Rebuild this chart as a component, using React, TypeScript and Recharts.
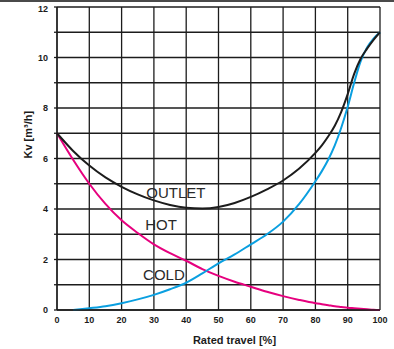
import React from "react"
import {
  LineChart,
  Line,
  XAxis,
  YAxis,
  CartesianGrid,
  ReferenceDot,
} from "recharts"

// Valve Kv curves vs rated travel.

const TRAVEL = [0, 5, 10, 15, 20, 25, 30, 35, 40, 45, 50, 55, 60, 65, 70, 75, 80, 82, 84, 86, 88, 90, 92, 94, 96, 98, 100]
const OUTLET = [7, 6.3, 5.72, 5.25, 4.88, 4.58, 4.34, 4.16, 4.05, 4.02, 4.08, 4.24, 4.48, 4.78, 5.13, 5.6, 6.22, 6.52, 6.88, 7.3, 7.85, 8.55, 9.35, 9.95, 10.35, 10.7, 11]
const HOT = [7, 5.95, 5.0, 4.2, 3.55, 3.05, 2.6, 2.25, 1.95, 1.62, 1.35, 1.12, 0.92, 0.72, 0.55, 0.4, 0.27, 0.23, 0.19, 0.15, 0.12, 0.09, 0.07, 0.05, 0.03, 0.01, 0]
const COLD = [null, 0, 0.07, 0.15, 0.27, 0.42, 0.6, 0.82, 1.08, 1.45, 1.85, 2.2, 2.6, 3.0, 3.5, 4.2, 5.1, 5.5, 5.96, 6.52, 7.22, 8.05, 9.0, 9.85, 10.4, 10.75, 11]

const X_TICKS = [0, 10, 20, 30, 40, 50, 60, 70, 80, 90, 100]
const Y_TICKS = [0, 1, 2, 3, 4, 5, 6, 7, 8, 9, 10, 11, 12]

const data = TRAVEL.map((t, i) => ({
  travel: t,
  outlet: OUTLET[i],
  hot: HOT[i],
  cold: COLD[i],
}))

const INK = "#1c1c1c"
const FONT = "Liberation Sans, Arial, sans-serif"
const tickFont = { fontSize: 9, fontWeight: 700, fill: INK, fontFamily: FONT }
const curveFont = { fontSize: 15, fill: "#2a2a2a", fontFamily: FONT }

// y labels only on even values
function YTick(props: any) {
  const { x, y, payload } = props
  if (payload.value % 2 !== 0) return null
  return (
    <text x={x - 4} y={y} dy={3} textAnchor="end" {...tickFont}>
      {payload.value}
    </text>
  )
}

export default function App() {
  return (
    <div style={{ position: "absolute", left: 0, top: 0, width: 394, height: 349, background: "#fff" }}>
      <div style={{ position: "absolute", left: 0, top: 0, width: 394, height: 2, background: "#4a4a4a" }} />
      <LineChart
        width={394}
        height={349}
        data={data}
        margin={{ top: 7, right: 14, bottom: 0, left: 0 }}
      >
        <CartesianGrid stroke={INK} strokeWidth={1.3} />
        <XAxis
          dataKey="travel"
          type="number"
          domain={[0, 100]}
          ticks={X_TICKS}
          height={39}
          stroke={INK}
          strokeWidth={1.3}
          tickLine={false}
          tickMargin={1}
          tick={tickFont}
          label={{
            value: "Rated travel [%]",
            position: "insideBottom",
            offset: 5,
            dx: 16,
            fontSize: 11,
            fontWeight: 700,
            fill: INK,
            fontFamily: FONT,
          }}
        />
        <YAxis
          type="number"
          domain={[0, 12]}
          ticks={Y_TICKS}
          width={57}
          stroke={INK}
          strokeWidth={1.3}
          tickSize={3}
          tick={<YTick />}
          label={{
            value: "Kv [m³/h]",
            angle: -90,
            position: "insideLeft",
            offset: 28,
            fontSize: 11,
            fontWeight: 700,
            fill: INK,
            fontFamily: FONT,
          }}
        />
        <Line type="monotone" dataKey="hot" stroke="#e6007e" strokeWidth={2} dot={false} isAnimationActive={false} />
        <Line type="monotone" dataKey="cold" stroke="#0a9fe0" strokeWidth={2} dot={false} isAnimationActive={false} />
        <Line type="monotone" dataKey="outlet" stroke={INK} strokeWidth={2} dot={false} isAnimationActive={false} />
        <ReferenceDot x={36.8} y={4.63} r={0} stroke="none" fill="none"
          label={{ value: "OUTLET", position: "center", ...curveFont }} />
        <ReferenceDot x={32.2} y={3.37} r={0} stroke="none" fill="none"
          label={{ value: "HOT", position: "center", ...curveFont }} />
        <ReferenceDot x={33.1} y={1.39} r={0} stroke="none" fill="none"
          label={{ value: "COLD", position: "center", ...curveFont }} />
      </LineChart>
    </div>
  )
}
